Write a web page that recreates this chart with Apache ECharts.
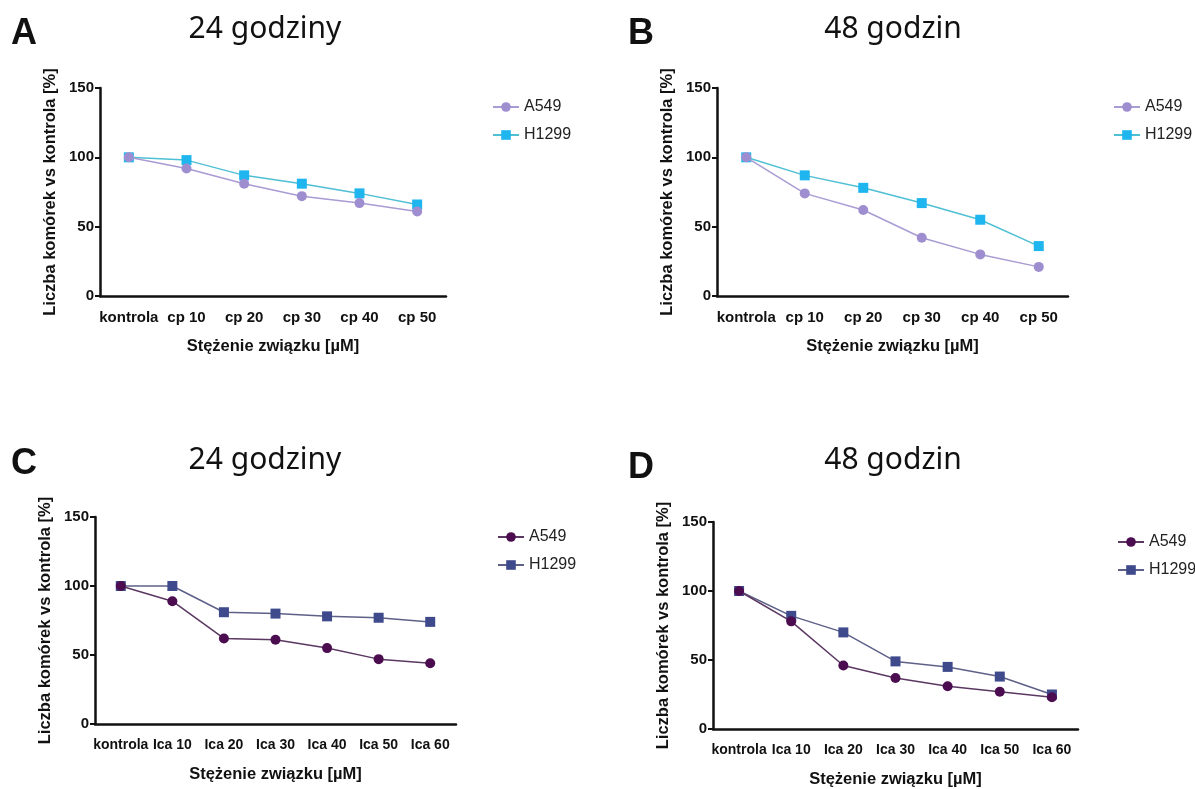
<!DOCTYPE html>
<html>
<head>
<meta charset="utf-8">
<title>Liczba komórek vs kontrola</title>
<script src="https://cdn.jsdelivr.net/npm/echarts@6/dist/echarts.min.js"></script>
<style>
  html, body { margin: 0; padding: 0; background: #fff; }
  #wykres { width: 1195px; height: 789px; }
</style>
</head>
<body>
<div id="wykres"></div>
<script>
// kategorie osi X
const kategorieCp = ['kontrola', 'cp 10', 'cp 20', 'cp 30', 'cp 40', 'cp 50'];
const kategorieIca = ['kontrola', 'Ica 10', 'Ica 20', 'Ica 30', 'Ica 40', 'Ica 50', 'Ica 60'];
const osYTicki = [0, 50, 100, 150];

// A - cp, 24 godziny
const cp24A549 = [100, 92, 81, 72, 67, 61];
const cp24H1299 = [100, 98, 87, 81, 74, 66];
// B - cp, 48 godzin
const cp48A549 = [100, 74, 62, 42, 30, 21];
const cp48H1299 = [100, 87, 78, 67, 55, 36];
// C - Ica, 24 godziny
const ica24A549 = [100, 89, 62, 61, 55, 47, 44];
const ica24H1299 = [100, 100, 81, 80, 78, 77, 74];
// D - Ica, 48 godzin
const ica48A549 = [100, 78, 46, 37, 31, 27, 23];
const ica48H1299 = [100, 82, 70, 49, 45, 38, 25];

const chart = echarts.init(document.getElementById('wykres'));

const grids = [
    { left: 100, top: 88, width: 346, height: 208 },
    { left: 717, top: 88, width: 351, height: 208 },
    { left: 95, top: 517, width: 361, height: 207 },
    { left: 713, top: 522, width: 365, height: 209 }
];

const fontBold = { fontFamily: 'Liberation Sans', fontWeight: 'bold', color: '#111' };

function xAxis(idx, cats, rozmiar) {
    return {
        type: 'category', gridIndex: idx, data: cats, boundaryGap: true,
        name: 'Stężenie związku [µM]', nameLocation: 'middle', nameGap: 42,
        nameTextStyle: Object.assign({ fontSize: 16.5 }, fontBold),
        axisLine: { lineStyle: { color: '#111', width: 2.5 } },
        axisTick: { alignWithLabel: true, length: 6, lineStyle: { width: 2, color: '#111' } },
        axisLabel: Object.assign({ fontSize: rozmiar, margin: 14, interval: 0 }, fontBold),
        splitLine: { show: false }
    };
}

function yAxis(idx) {
    return {
        type: 'value', gridIndex: idx, min: osYTicki[0], max: osYTicki[osYTicki.length - 1], interval: 50,
        name: 'Liczba komórek vs kontrola [%]', nameLocation: 'middle', nameGap: 41,
        nameTextStyle: Object.assign({ fontSize: 16.5 }, fontBold),
        axisLine: { show: true, lineStyle: { color: '#111', width: 2.5 } },
        axisTick: { show: true, length: 5, lineStyle: { width: 2, color: '#111' } },
        axisLabel: Object.assign({ fontSize: 15, margin: 6 }, fontBold),
        splitLine: { show: false }
    };
}

const lawenda = { m: '#9f8ecf', l: '#a99bd3' };
const cyjan = { m: '#1fb5ee', l: '#4fbfd4' };
const fiolet = { m: '#4b0d50', l: '#5a3862' };
const lupek = { m: '#3f4a8c', l: '#5d6188' };

function seria(name, idx, data, kolor, symbol) {
    return {
        name: name, type: 'line', xAxisIndex: idx, yAxisIndex: idx, data: data,
        symbol: symbol, symbolSize: 10,
        itemStyle: { color: kolor.m },
        lineStyle: { color: kolor.l, width: 1.5 },
        z: symbol === 'circle' ? 3 : 2
    };
}

function legenda(left, top, names) {
    return {
        left: left, top: top, orient: 'vertical', data: names,
        itemWidth: 26, itemHeight: 12, itemGap: 12,
        formatter: function (n) { return n.trim(); },
        textStyle: { fontFamily: 'Liberation Sans', fontSize: 16, color: '#222' }
    };
}

function tytul(text, left, top) {
    return {
        text: text, left: left, top: top, textAlign: 'center', padding: 0,
        textStyle: { fontFamily: 'Noto Sans', fontWeight: 'normal', fontSize: 30, color: '#111' }
    };
}

function litera(text, left, top) {
    return {
        text: text, left: left, top: top, padding: 0,
        textStyle: { fontFamily: 'Liberation Sans', fontWeight: 'bold', fontSize: 36, color: '#111' }
    };
}

chart.setOption({
    backgroundColor: '#fff',
    animation: false,
    title: [
        litera('A', 11, 16), litera('B', 628, 16), litera('C', 11, 446), litera('D', 628, 450),
        tytul('24 godziny', 265, 14), tytul('48 godzin', 893, 14),
        tytul('24 godziny', 265, 445), tytul('48 godzin', 893, 445)
    ],
    legend: [
        legenda(487, 94, ['A549', 'H1299']),
        legenda(1108, 94, ['A549 ', 'H1299 ']),
        legenda(492, 524, ['A549  ', 'H1299  ']),
        legenda(1112, 529, ['A549   ', 'H1299   '])
    ],
    grid: grids,
    xAxis: [
        xAxis(0, kategorieCp, 15), xAxis(1, kategorieCp, 15),
        xAxis(2, kategorieIca, 14), xAxis(3, kategorieIca, 14)
    ],
    yAxis: [yAxis(0), yAxis(1), yAxis(2), yAxis(3)],
    series: [
        seria('A549', 0, cp24A549, lawenda, 'circle'),
        seria('H1299', 0, cp24H1299, cyjan, 'rect'),
        seria('A549 ', 1, cp48A549, lawenda, 'circle'),
        seria('H1299 ', 1, cp48H1299, cyjan, 'rect'),
        seria('A549  ', 2, ica24A549, fiolet, 'circle'),
        seria('H1299  ', 2, ica24H1299, lupek, 'rect'),
        seria('A549   ', 3, ica48A549, fiolet, 'circle'),
        seria('H1299   ', 3, ica48H1299, lupek, 'rect')
    ]
});
</script>
</body>
</html>
